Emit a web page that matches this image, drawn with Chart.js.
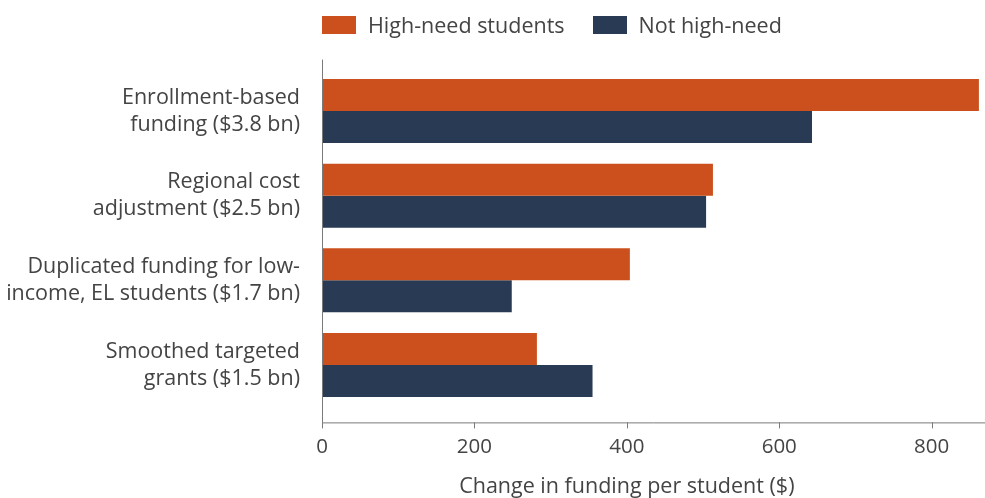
<!DOCTYPE html>
<html>
<head>
<meta charset="utf-8">
<script src="https://cdn.jsdelivr.net/npm/chart.js@4.4.1/dist/chart.umd.min.js"></script>
<style>
  html, body { margin: 0; padding: 0; background: #fff; }
  #wrap { position: relative; width: 985px; height: 498px; }
  #legend { position: absolute; top: 10px; left: 322px; display: flex; font-family: "Open Sans", sans-serif; font-size: 21.5px; color: #444; }
  .item { display: flex; align-items: center; margin-right: 28px; }
  .swatch { width: 34px; height: 18px; margin-right: 12px; }
</style>
</head>
<body>
<div id="wrap">
  <canvas id="chart" width="985" height="498"></canvas>
  <div id="legend"></div>
</div>
<script>
const categories = [
    ['Enrollment-based', 'funding ($3.8 bn)'],
    ['Regional cost', 'adjustment ($2.5 bn)'],
    ['Duplicated funding for low-', 'income, EL students ($1.7 bn)'],
    ['Smoothed targeted', 'grants ($1.5 bn)']
];
const highNeed = [862, 513, 404, 282];
const notHighNeed = [643, 504, 249, 355];
const xTicks = [0, 200, 400, 600, 800];
const xTitle = 'Change in funding per student ($)';

const textColor = '#444444';
const axisColor = '#7a7a7a';
const font = '"Open Sans", sans-serif';

// axis lines, tick marks and x title, drawn a bit outside the chart area like the original
const axisLines = {
    id: 'axisLines',
    afterDraw(chart) {
        const { ctx, chartArea, scales } = chart;
        const yTop = chartArea.top - 9;
        const yBot = chartArea.bottom + 15;
        ctx.save();
        ctx.strokeStyle = axisColor;
        ctx.lineWidth = 1;
        ctx.beginPath();
        ctx.moveTo(chartArea.left + 0.5, yTop);
        ctx.lineTo(chartArea.left + 0.5, yBot);
        ctx.moveTo(chartArea.left, yBot + 0.5);
        ctx.lineTo(chartArea.right, yBot + 0.5);
        xTicks.forEach(v => {
            const x = Math.round(scales.x.getPixelForValue(v)) + 0.5;
            ctx.moveTo(x, yBot);
            ctx.lineTo(x, yBot + 6);
        });
        ctx.stroke();

        // title centred under the labelled range
        const cx = (scales.x.getPixelForValue(xTicks[0]) + scales.x.getPixelForValue(xTicks[xTicks.length - 1])) / 2;
        ctx.fillStyle = textColor;
        ctx.font = '21.5px ' + font;
        ctx.textAlign = 'center';
        ctx.textBaseline = 'middle';
        ctx.fillText(xTitle, cx, 487);
        ctx.restore();
    }
};

const chart = new Chart(document.getElementById('chart').getContext('2d'), {
    type: 'bar',
    data: {
        labels: categories,
        datasets: [
            {
                label: 'High-need students',
                data: highNeed,
                backgroundColor: '#CB501D',
                barPercentage: 1,
                categoryPercentage: 0.756
            },
            {
                label: 'Not high-need',
                data: notHighNeed,
                backgroundColor: '#293A55',
                barPercentage: 1,
                categoryPercentage: 0.756
            }
        ]
    },
    options: {
        indexAxis: 'y',
        responsive: false,
        animation: false,
        layout: { padding: { top: 68.6, right: 0, left: 0, bottom: 0 } },
        plugins: {
            legend: { display: false },
            tooltip: { enabled: false }
        },
        scales: {
            y: {
                grid: { display: false, drawTicks: false },
                border: { display: false },
                ticks: {
                    color: textColor,
                    padding: 22,
                    font: { family: font, size: 21.5, lineHeight: 1.256 }
                },
                afterFit: s => { s.width = 322; }
            },
            x: {
                min: 0,
                max: 870,
                afterBuildTicks: s => { s.ticks = xTicks.map(v => ({ value: v })); },
                grid: { display: false, drawTicks: false },
                border: { display: false },
                ticks: {
                    color: textColor,
                    padding: 27,
                    font: { family: font, size: 20.5 }
                },
                afterFit: s => { s.height = 90.6; }
            }
        }
    },
    plugins: [axisLines]
});

// legend built from the datasets
const legendEl = document.getElementById('legend');
chart.data.datasets.forEach(ds => {
    const item = document.createElement('div');
    item.className = 'item';
    const sw = document.createElement('span');
    sw.className = 'swatch';
    sw.style.background = ds.backgroundColor;
    const txt = document.createElement('span');
    txt.textContent = ds.label;
    item.appendChild(sw);
    item.appendChild(txt);
    legendEl.appendChild(item);
});
</script>
</body>
</html>
